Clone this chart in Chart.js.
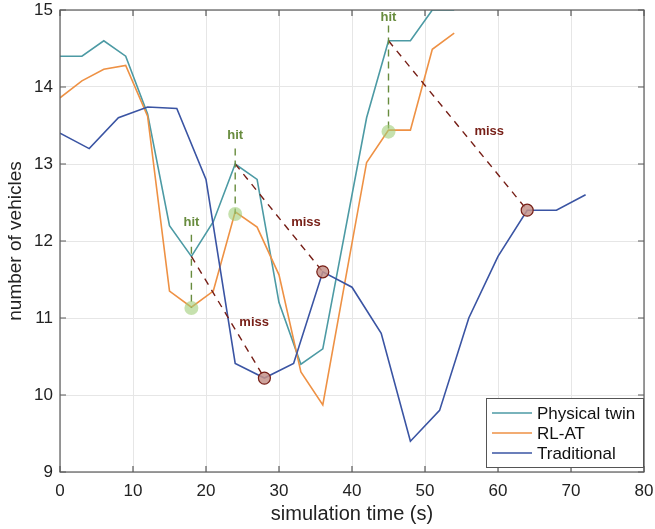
<!DOCTYPE html>
<html>
<head>
<meta charset="utf-8">
<script src="https://cdn.jsdelivr.net/npm/chart.js@4"></script>
<style>
  html, body { margin: 0; padding: 0; background: #fff; }
  #wrap { width: 655px; height: 529px; }
</style>
</head>
<body>
<div id="wrap"><canvas id="vehChart" width="655" height="529"></canvas></div>
<script>
// series
const twinTime = [0, 3, 6, 9, 12, 15, 18, 21, 24, 27, 30, 33, 36, 39, 42, 45, 48, 51, 54];
const twinVals = [14.4, 14.4, 14.6, 14.4, 13.65, 12.2, 11.8, 12.25, 13.0, 12.8, 11.2, 10.4, 10.6, 12.1, 13.6, 14.6, 14.6, 15.0, 15.0];
const rlTime = [0, 3, 6, 9, 12, 15, 18, 21, 24, 27, 30, 33, 36, 39, 42, 45, 48, 51, 54];
const rlVals = [13.86, 14.08, 14.23, 14.28, 13.62, 11.35, 11.14, 11.35, 12.38, 12.18, 11.56, 10.3, 9.87, 11.45, 13.02, 13.44, 13.44, 14.49, 14.7];
const tradTime = [0, 4, 8, 12, 16, 20, 24, 28, 32, 36, 40, 44, 48, 52, 56, 60, 64, 68, 72];
const tradVals = [13.4, 13.2, 13.6, 13.74, 13.72, 12.8, 10.41, 10.22, 10.41, 11.6, 11.4, 10.8, 9.4, 9.8, 11.0, 11.8, 12.4, 12.4, 12.6];

// hit / miss annotations
const hitTimes = [18, 24, 45];
const hitTop = [12.08, 13.2, 14.8];
const hitRL = [11.13, 12.35, 13.42];
const hitLabelY = [12.24, 13.37, 14.9];
const missFromT = [18, 24, 45];
const missFromV = [11.8, 13.0, 14.6];
const missToT = [28, 36, 64];
const missToV = [10.22, 11.6, 12.4];
const missLabelT = [26.6, 33.7, 58.8];
const missLabelV = [10.94, 12.24, 13.42];

const xTicks = [0, 10, 20, 30, 40, 50, 60, 70, 80];
const yTicks = [9, 10, 11, 12, 13, 14, 15];

const TEAL = 'rgb(76,154,164)';
const ORANGE = 'rgb(238,145,68)';
const BLUE = 'rgb(58,84,163)';
const HITC = 'rgb(104,140,62)';
const MISSC = 'rgb(118,30,22)';
const FONT = '"Liberation Sans", Arial, Helvetica, sans-serif';

const toXY = (xs, ys) => xs.map((x, i) => ({x: x, y: ys[i]}));

const datasets = [
  {label: 'Physical twin', data: toXY(twinTime, twinVals), borderColor: TEAL, borderWidth: 1.6, pointRadius: 0, order: 3},
  {label: 'RL-AT', data: toXY(rlTime, rlVals), borderColor: ORANGE, borderWidth: 1.6, pointRadius: 0, order: 2},
  {label: 'Traditional', data: toXY(tradTime, tradVals), borderColor: BLUE, borderWidth: 1.6, pointRadius: 0, order: 1}
];

hitTimes.forEach((t, i) => {
  datasets.push({label: '_hit', data: [{x: t, y: hitTop[i]}, {x: t, y: hitRL[i]}],
    borderColor: HITC, borderWidth: 1.4, borderDash: [7, 5], pointRadius: 0, order: 0});
});
missFromT.forEach((t, i) => {
  datasets.push({label: '_miss', data: [{x: t, y: missFromV[i]}, {x: missToT[i], y: missToV[i]}],
    borderColor: MISSC, borderWidth: 1.4, borderDash: [7, 6], pointRadius: 0, order: 0});
});
datasets.push({label: '_hitpt', type: 'scatter', data: toXY(hitTimes, hitRL),
  pointRadius: 7, pointBackgroundColor: 'rgba(160,205,120,0.6)', pointBorderWidth: 0, borderColor: 'rgba(0,0,0,0)', order: -1});
datasets.push({label: '_misspt', type: 'scatter', data: toXY(missToT, missToV),
  pointRadius: 6, pointBackgroundColor: 'rgba(196,146,138,0.85)', pointBorderColor: MISSC, pointBorderWidth: 1.2, order: -1});

const frame = {
  id: 'frame',
  afterDraw(chart) {
    const ctx = chart.ctx;
    const a = chart.chartArea;
    const xs = chart.scales.x, ys = chart.scales.y;
    ctx.save();
    // labels
    ctx.font = 'bold 13px ' + FONT;
    ctx.textAlign = 'center';
    ctx.textBaseline = 'middle';
    ctx.fillStyle = HITC;
    hitTimes.forEach((t, i) => ctx.fillText('hit', xs.getPixelForValue(t), ys.getPixelForValue(hitLabelY[i])));
    ctx.fillStyle = MISSC;
    missLabelT.forEach((t, i) => ctx.fillText('miss', xs.getPixelForValue(t), ys.getPixelForValue(missLabelV[i])));
    // box and inward ticks
    ctx.strokeStyle = '#5a5a5a';
    ctx.lineWidth = 1.2;
    ctx.strokeRect(a.left, a.top, a.right - a.left, a.bottom - a.top);
    ctx.beginPath();
    xTicks.forEach(v => {
      const p = xs.getPixelForValue(v);
      ctx.moveTo(p, a.bottom); ctx.lineTo(p, a.bottom - 6);
      ctx.moveTo(p, a.top); ctx.lineTo(p, a.top + 6);
    });
    yTicks.forEach(v => {
      const p = ys.getPixelForValue(v);
      ctx.moveTo(a.left, p); ctx.lineTo(a.left + 6, p);
      ctx.moveTo(a.right, p); ctx.lineTo(a.right - 6, p);
    });
    ctx.stroke();
    // legend
    const lx = 486, ly = 398, lw = a.right - 486, lh = 70;
    ctx.fillStyle = '#fff';
    ctx.fillRect(lx, ly, lw, lh);
    ctx.strokeStyle = '#555';
    ctx.lineWidth = 1;
    ctx.strokeRect(lx + 0.5, ly + 0.5, lw - 1, lh - 1);
    ctx.font = '17px ' + FONT;
    ctx.textAlign = 'left';
    ctx.fillStyle = '#111';
    chart.data.datasets.slice(0, 3).forEach((d, i) => {
      const y = 413 + i * 20;
      ctx.strokeStyle = d.borderColor;
      ctx.lineWidth = 1.6;
      ctx.beginPath();
      ctx.moveTo(492, y); ctx.lineTo(532, y);
      ctx.stroke();
      ctx.fillText(d.label, 537, y + 1);
    });
    ctx.restore();
  }
};

new Chart(document.getElementById('vehChart'), {
  type: 'line',
  data: {datasets: datasets},
  options: {
    responsive: false,
    animation: false,
    layout: {padding: {left: 0, top: 10, right: 11, bottom: 0}},
    plugins: {legend: {display: false}, tooltip: {enabled: false}},
    scales: {
      x: {
        type: 'linear', min: 0, max: 80,
        afterFit: s => { s.height = 57; s.paddingLeft = 0; s.paddingRight = 0; },
        afterBuildTicks: s => { s.ticks = xTicks.map(v => ({value: v})); },
        grid: {color: '#e6e6e6', drawTicks: false},
        border: {display: false},
        ticks: {padding: 9, color: '#222', font: {family: FONT, size: 17}, maxRotation: 0},
        title: {display: true, text: 'simulation time (s)', color: '#222',
          font: {family: FONT, size: 20}, padding: {top: 0, bottom: 3}}
      },
      y: {
        min: 9, max: 15,
        afterFit: s => { s.width = 60; s.paddingTop = 0; s.paddingBottom = 0; },
        afterBuildTicks: s => { s.ticks = yTicks.map(v => ({value: v})); },
        grid: {color: '#e6e6e6', drawTicks: false},
        border: {display: false},
        ticks: {padding: 7, color: '#222', font: {family: FONT, size: 17}},
        title: {display: true, text: 'number of vehicles', color: '#222',
          font: {family: FONT, size: 19}, padding: {top: 4, bottom: 0}}
      }
    }
  },
  plugins: [frame]
});
</script>
</body>
</html>
